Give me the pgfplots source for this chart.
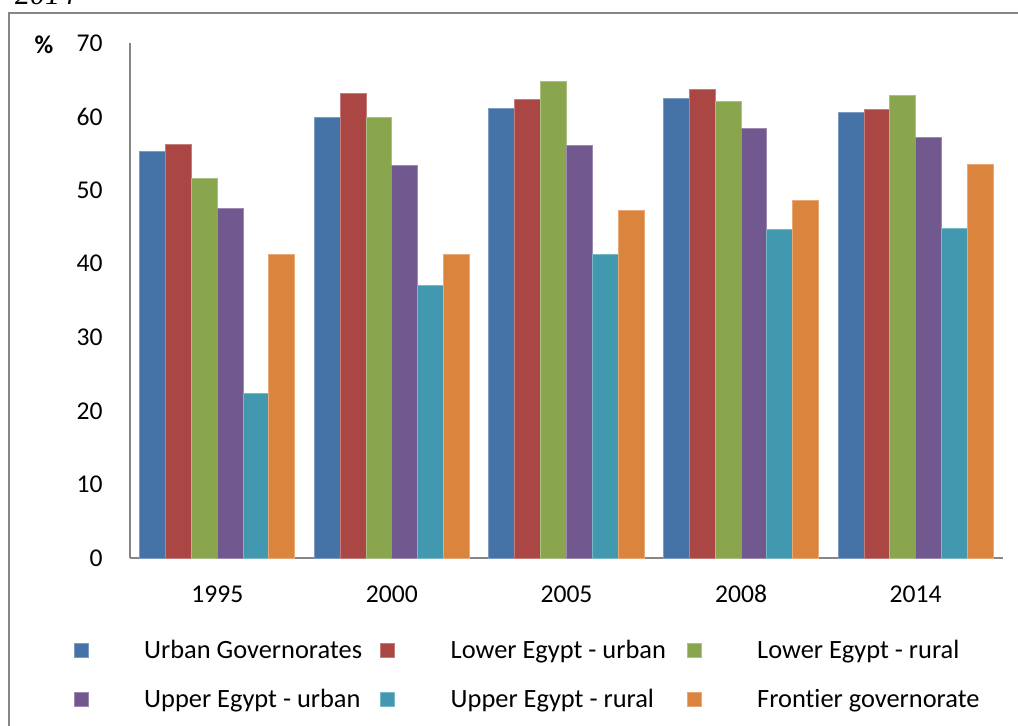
\documentclass[border=0pt]{standalone}
\usepackage{fontspec}
\setmainfont{Carlito}[Ligatures=NoCommon]
\newfontfamily\serifit{Liberation Serif}
\usepackage{pgfplots}
\pgfplotsset{compat=1.18}

\definecolor{cUrb}{RGB}{69,114,167}
\definecolor{cLEu}{RGB}{170,70,67}
\definecolor{cLEr}{RGB}{137,165,78}
\definecolor{cUEu}{RGB}{113,88,143}
\definecolor{cUEr}{RGB}{65,152,175}
\definecolor{cFro}{RGB}{219,132,61}
\definecolor{axgray}{RGB}{134,134,134}

\pgfplotsset{
  sq/.style={legend image code/.code={
      \fill[##1] (0pt,-2.8pt) rectangle (7pt,4.2pt);
      \path[draw=none, fill=none] (0pt,0pt) -- (33pt,0pt);}},
}

\begin{document}
\begin{tikzpicture}
\useasboundingbox (-65pt,-83.5pt) rectangle (444pt,279pt);
% outer frame (cut at right and bottom in the source)
\draw[axgray, line width=1.2pt] (-60.5pt,-100pt) -- (-60.5pt,272.5pt) -- (460pt,272.5pt);
\node[anchor=base west, font=\serifit\itshape\fontsize{15}{18}\selectfont] at (-61pt,276.8pt) {2014};
\node[anchor=base, font=\bfseries\fontsize{12.8}{15}\selectfont] at (-43pt,252.5pt) {\%};

\begin{axis}[
  width=436.5pt, height=257.5pt, scale only axis,
  xmin=-0.5, xmax=4.5, ymin=0, ymax=70,
  enlargelimits=false,
  ybar, bar width=0.148,
  axis lines*=left,
  axis line style={draw=axgray, line width=0.8pt},
  major tick length=0pt,
  xtick={0,1,2,3,4},
  xticklabels={1995,2000,2005,2008,2014},
  ytick={0,10,...,70},
  /pgf/number format/assume math mode=true,
  tick label style={font=\fontsize{12.8}{15}\selectfont, inner sep=0pt, text=black},
  yticklabel style={xshift=-13.5pt},
  xticklabel style={yshift=-13.5pt},
  legend columns=3,
  legend style={at={(0,0)}, anchor=north west, xshift=-28.35pt, yshift=-38pt,
    draw=none, fill=none, inner sep=0pt, row sep=7.5pt,
    cells={anchor=center},
    nodes={inner sep=2pt, text height=10pt, text depth=3pt,
      font=\fontsize{13.2}{16}\selectfont}},
]
\addplot[fill=cUrb, draw=cUrb!70!white, line width=0.5pt, bar shift=-0.37, sq]
  coordinates {(0,55.3) (1,59.9) (2,61.1) (3,62.5) (4,60.6)};
\addlegendentry{\makebox[116pt][l]{Urban Governorates}}
\addplot[fill=cLEu, draw=cLEu!70!white, line width=0.5pt, bar shift=-0.222, sq]
  coordinates {(0,56.2) (1,63.2) (2,62.3) (3,63.7) (4,61.0)};
\addlegendentry{\makebox[116pt][l]{Lower Egypt - urban}}
\addplot[fill=cLEr, draw=cLEr!70!white, line width=0.5pt, bar shift=-0.074, sq]
  coordinates {(0,51.6) (1,59.9) (2,64.8) (3,62.0) (4,62.8)};
\addlegendentry{\makebox[116pt][l]{Lower Egypt - rural}}
\addplot[fill=cUEu, draw=cUEu!70!white, line width=0.5pt, bar shift=0.074, sq]
  coordinates {(0,47.5) (1,53.3) (2,56.1) (3,58.4) (4,57.1)};
\addlegendentry{\makebox[116pt][l]{Upper Egypt - urban}}
\addplot[fill=cUEr, draw=cUEr!70!white, line width=0.5pt, bar shift=0.222, sq]
  coordinates {(0,22.3) (1,37.1) (2,41.3) (3,44.6) (4,44.8)};
\addlegendentry{\makebox[116pt][l]{Upper Egypt - rural}}
\addplot[fill=cFro, draw=cFro!70!white, line width=0.5pt, bar shift=0.37, sq]
  coordinates {(0,41.3) (1,41.3) (2,47.2) (3,48.6) (4,53.5)};
\addlegendentry{\makebox[116pt][l]{Frontier governorate}}
\end{axis}
\end{tikzpicture}
\end{document}
